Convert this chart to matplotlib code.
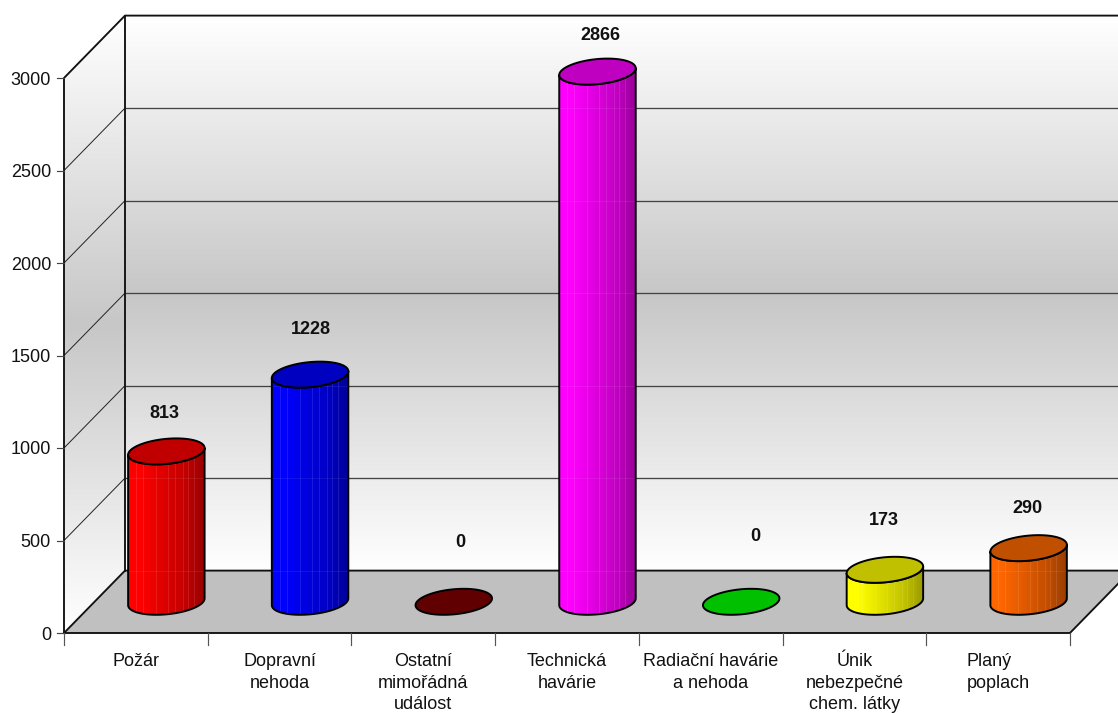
import numpy as np
import matplotlib
matplotlib.use("Agg")
import matplotlib.pyplot as plt
from matplotlib.patches import Polygon

plt.rcParams['font.family'] = ['Liberation Sans', 'DejaVu Sans']

categories = ["Požár", "Dopravní\nnehoda", "Ostatní\nmimořádná\nudálost", "Technická\nhavárie",
              "Radiační havárie\na nehoda", "Únik\nnebezpečné\nchem. látky", "Planý\npoplach"]
values = [813, 1228, 0, 2866, 0, 173, 290]
y_ticks = [0, 500, 1000, 1500, 2000, 2500, 3000]
side_colors = ["#ff0000", "#0000ff", "#800000", "#ff00ff", "#00ff00", "#ffff00", "#ff6600"]
top_colors = ["#c00000", "#0000c0", "#600000", "#c000c0", "#00c000", "#c0c000", "#c05000"]
label_offsets_px = [(-2, 38), (1, 45), (7, 59), (3, 36), (14, 65), (-1, 49), (-1, 40)]

W, H = 1118, 713
X0, Y0 = 64.0, 633.0
PX_CAT = 143.71
PX_VAL = 555.0 / 3000
DX_PX, DY_PX = 61.0, 62.4
DCAT = DX_PX / PX_CAT
DVAL = DY_PX / PX_VAL
YMAX = max(y_ticks)
NCAT = len(categories)
XRIGHT = (W - X0) / PX_CAT
RX_PX = 36.9
SHEAR_PX = 10.0
RISE_PX = 13.0
RX = RX_PX / PX_CAT
SHEAR = SHEAR_PX / PX_CAT
RISE = RISE_PX / PX_VAL

fig = plt.figure(figsize=(W / 100, H / 100), dpi=100, facecolor="white")
ax = fig.add_axes([0, 0, 1, 1])
ax.axis("off")


def P(x, v, d=0.0):
    return (x + d * DCAT, v + d * DVAL)


def grad_fill(poly_pts, colors_img, extent, z, interp="bilinear"):
    poly = Polygon(poly_pts, closed=True, transform=ax.transData, fc="none", ec="none")
    ax.add_patch(poly)
    im = ax.imshow(colors_img, extent=extent, aspect="auto", zorder=z, interpolation=interp, origin="lower")
    im.set_clip_path(poly)


def wall_gradient(low, n=256):
    t = np.linspace(0, 1, n)
    g = 1 - (1 - low) * (1 - np.abs(2 * t - 1))
    return np.repeat(g[:, None, None], 3, axis=2)


back = [P(0, 0, 1), P(NCAT, 0, 1), P(NCAT, YMAX, 1), P(0, YMAX, 1)]
grad_fill(back, wall_gradient(0.78), (DCAT, NCAT + DCAT, DVAL, DVAL + YMAX), 1)
side = [P(0, 0, 0), P(0, 0, 1), P(0, YMAX, 1), P(0, YMAX, 0)]
grad_fill(side, wall_gradient(0.78), (0, DCAT, 0, YMAX + DVAL), 1)

# floor
ax.add_patch(Polygon([P(0, 0, 0), P(NCAT, 0, 0), P(NCAT, 0, 1), P(0, 0, 1)], closed=True,
                     fc="#c0c0c0", ec="none", zorder=2))

# grid
for v in y_ticks[1:-1]:
    xs, ys = zip(P(0, v, 0), P(0, v, 1))
    ax.plot(xs, ys, color="#222222", lw=0.7, zorder=3, solid_capstyle="butt")
    xs, ys = zip(P(0, v, 1), P(NCAT, v, 1))
    ax.plot(xs, ys, color="#444444", lw=0.95, zorder=3, solid_capstyle="butt")

# frame
frame_lines = [
    [P(0, 0, 0), P(0, YMAX, 0), P(0, YMAX, 1), P(NCAT, YMAX, 1)],
    [P(0, 0, 1), P(0, YMAX, 1)],
    [P(0, 0, 0), P(0, 0, 1), P(NCAT, 0, 1)],
    [P(0, 0, 0), P(NCAT, 0, 0), P(NCAT, 0, 1)],
]
for seg in frame_lines:
    xs, ys = zip(*seg)
    ax.plot(xs, ys, color="#111111", lw=1.35, zorder=4, solid_joinstyle="round")

# ticks
tk_x = 7.0 / PX_CAT
tk_y = 12.0 / PX_VAL
for v in y_ticks:
    ax.plot([-tk_x, 0], [v, v], color="#444444", lw=0.85, zorder=4)
    ax.annotate(str(v), (0, v), xytext=(-13, -2), textcoords="offset pixels", ha="right", va="center",
                fontsize=13.0, color="#111111")
for i in range(NCAT + 1):
    ax.plot([i, i], [0, -tk_y], color="#555555", lw=0.85, zorder=4)

# category labels
for i, c in enumerate(categories):
    ma = "left" if c.startswith("Plan") else "center"
    ax.annotate(c, (i + 0.5, 0), xytext=(0, -20), textcoords="offset pixels", ha="center", va="top",
                fontsize=13.0, multialignment=ma, linespacing=1.347, color="#111111")

# shading and light stripes across a cylinder body
n_px = 77
shade = np.interp(np.linspace(0, 1, n_px), [0, 0.14, 0.45, 0.75, 1.0], [1.0, 1.0, 0.88, 0.76, 0.6])
stripe_idx = [8, 15, 28, 40, 47, 55, 60, 66]
stripe_amt = np.zeros(n_px)
stripe_amt[stripe_idx] = 0.1


def ellipse(cx, v, t):
    x = cx + RX * np.cos(t) + SHEAR * np.sin(t)
    y = v + RISE * np.sin(t)
    return np.column_stack([x, y])


t_r = np.arctan2(SHEAR_PX, RX_PX)
t_l = t_r + np.pi
half_w = np.hypot(RX, SHEAR)
for i, (v, sc, tc) in enumerate(zip(values, side_colors, top_colors)):
    cx, base = P(i + 0.5, 0, 0.5)
    top_v = base + v
    tt = np.linspace(0, 2 * np.pi, 121)
    if v > 0:
        arc = np.linspace(t_l, t_r + 2 * np.pi, 80)
        low = ellipse(cx, base, arc)
        up = ellipse(cx, top_v, arc[::-1])
        body = np.vstack([low, up])
        rgb = np.array(matplotlib.colors.to_rgb(sc))
        img = np.zeros((1, n_px, 3))
        for k in range(n_px):
            col = rgb * shade[k]
            img[0, k] = col + (1 - col) * stripe_amt[k]
        grad_fill(body, img, (cx - half_w, cx + half_w, base - 30 / PX_VAL, top_v + 30 / PX_VAL), 5, "nearest")
        for g in y_ticks:
            gy = g + DVAL
            if base < gy < top_v:
                ax.plot([cx - half_w, cx + half_w], [gy, gy], color="white", lw=0.7, alpha=0.08, zorder=5.5)
        ax.add_patch(Polygon(body, closed=True, fc="none", ec="black", lw=1.4, zorder=6, joinstyle="round"))
    ax.add_patch(Polygon(ellipse(cx, top_v, tt), closed=True, fc=tc, ec="black", lw=1.4, zorder=7))
    ax.annotate(str(v), (cx, top_v), xytext=label_offsets_px[i], textcoords="offset pixels", ha="center",
                va="center", fontsize=13.0, fontweight="bold", color="#111111", zorder=8)

ax.set_xlim(-X0 / PX_CAT, XRIGHT)
ax.set_ylim((Y0 - H) / PX_VAL, Y0 / PX_VAL)
fig.savefig("out.png", dpi=100)
